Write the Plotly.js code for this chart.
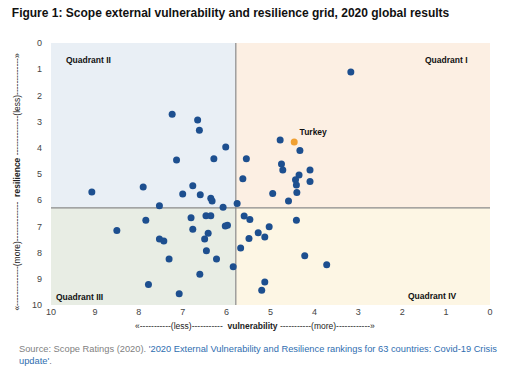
<!DOCTYPE html>
<html><head><meta charset="utf-8">
<script src="https://cdn.plot.ly/plotly-3.0.1.min.js"></script>
<style>html,body{margin:0;padding:0;background:#fff}#c{width:513px;height:377px}</style>
</head><body><div id="c"></div>
<script>
const vulnerability = [3.17,4.78,4.33,5.55,4.75,4.72,4.10,4.35,5.63,4.43,4.10,4.41,4.95,4.40,4.59,5.76,5.60,5.47,4.41,5.03,5.28,5.49,5.13,5.68,4.22,3.72,5.85,5.13,5.20,7.24,6.66,6.62,6.02,7.14,6.29,9.07,7.90,6.77,7.00,6.60,6.36,6.33,7.53,6.08,7.84,6.81,6.47,6.36,6.77,6.03,5.98,8.50,6.42,7.53,7.43,6.50,6.46,7.31,6.23,6.61,7.78,7.08];
const resilience = [1.11,3.70,4.10,4.42,4.62,4.85,4.85,5.04,5.18,5.22,5.29,5.42,5.74,5.71,6.03,6.13,6.60,6.74,6.77,7.01,7.24,7.46,7.40,7.82,8.12,8.46,8.54,9.12,9.44,2.72,2.94,3.33,3.97,4.47,4.42,5.69,5.50,5.45,5.76,5.79,5.93,6.03,6.21,6.27,6.77,6.67,6.59,6.59,7.11,6.98,6.96,7.16,7.26,7.48,7.56,7.48,7.93,8.24,8.24,8.83,9.22,9.57];
const highlightName = ["Turkey"];
const highlightX = [4.46];
const highlightY = [3.78];
const xTicks = [10,9,8,7,6,5,4,3,2,1,0];
const yTicks = [0,1,2,3,4,5,6,7,8,9,10];
const splitX = 5.79, splitY = 6.29;

const traces = [
  {x: vulnerability, y: resilience, type:'scatter', mode:'markers',
   marker:{color:'#1d4f8f', size:7}, hoverinfo:'x+y', showlegend:false},
  {x: highlightX, y: highlightY, type:'scatter', mode:'markers+text', text: highlightName.map(s => '<b>' + s + '</b>'),
   textposition:'top right', textfont:{family:'Arial, Liberation Sans', size:8.5, color:'#111'},
   marker:{color:'#f0a033', size:7}, showlegend:false}
];
const tickFont = {family:'Arial, Liberation Sans', size:9, color:'#444'};
const layout = {
  width:513, height:377,
  margin:{l:51, r:23, t:43, b:72},
  paper_bgcolor:'#fff', plot_bgcolor:'#fff',
  showlegend:false,
  title:{text:'<b>Figure 1: Scope external vulnerability and resilience grid, 2020 global results</b>',
    x:0.023, xanchor:'left', y:0.965, yanchor:'middle',
    font:{family:'Arial, Liberation Sans', size:12, color:'#111'}},
  xaxis:{range:[10,0], tickvals:xTicks, ticktext:xTicks.map(String), showgrid:false, zeroline:false,
    showline:false, ticks:'', tickfont:tickFont, ticklen:0},
  yaxis:{range:[10,0], tickvals:yTicks, ticktext:yTicks.map(String), showgrid:false, zeroline:false,
    showline:false, ticks:'', tickfont:tickFont, ticklabelstandoff:8},
  shapes:[
    {type:'rect', xref:'x', yref:'y', x0:10, x1:splitX, y0:0, y1:splitY, fillcolor:'#e9eff5', line:{width:0}, layer:'below'},
    {type:'rect', xref:'x', yref:'y', x0:splitX, x1:0, y0:0, y1:splitY, fillcolor:'#fcefe3', line:{width:0}, layer:'below'},
    {type:'rect', xref:'x', yref:'y', x0:10, x1:splitX, y0:splitY, y1:10, fillcolor:'#e8ede4', line:{width:0}, layer:'below'},
    {type:'rect', xref:'x', yref:'y', x0:splitX, x1:0, y0:splitY, y1:10, fillcolor:'#fdf6e4', line:{width:0}, layer:'below'},
    {type:'line', xref:'x', yref:'y', x0:splitX, x1:splitX, y0:0, y1:10, line:{color:'#8a8a8a', width:1.2}, layer:'below'},
    {type:'line', xref:'x', yref:'y', x0:10, x1:0, y0:splitY, y1:splitY, line:{color:'#8a8a8a', width:1.2}, layer:'below'}
  ],
  annotations:[
    {text:'<b>Quadrant II</b>', xref:'paper', yref:'paper', x:0.03, y:0.935, xanchor:'left', yanchor:'middle', showarrow:false, font:{family:'Arial, Liberation Sans', size:8.5, color:'#111'}},
    {text:'<b>Quadrant I</b>', xref:'paper', yref:'paper', x:0.955, y:0.935, xanchor:'right', yanchor:'middle', showarrow:false, font:{family:'Arial, Liberation Sans', size:8.5, color:'#111'}},
    {text:'<b>Quadrant III</b>', xref:'paper', yref:'paper', x:0.007, y:0.03, xanchor:'left', yanchor:'middle', showarrow:false, font:{family:'Arial, Liberation Sans', size:8.5, color:'#111'}},
    {text:'<b>Quadrant IV</b>', xref:'paper', yref:'paper', x:0.93, y:0.035, xanchor:'right', yanchor:'middle', showarrow:false, font:{family:'Arial, Liberation Sans', size:8.5, color:'#111'}},
    {text:'«-----------(less)-----------  <b>vulnerability</b> -----------(more)------------»', xref:'paper', yref:'paper', x:0.465, y:-0.082, xanchor:'center', yanchor:'middle', showarrow:false, font:{family:'Arial, Liberation Sans', size:8.5, color:'#222'}},
    {text:'«--------------(more)--------------  <b>resilience</b> --------------(less)-------------»', xref:'paper', yref:'paper', x:-0.078, y:0.47, xanchor:'center', yanchor:'middle', textangle:-90, showarrow:false, font:{family:'Arial, Liberation Sans', size:8.5, color:'#222'}},
    {text:'<span style="color:#7f7f7f">Source: Scope Ratings (2020). </span><span style="color:#2f6eb0">\'2020 External Vulnerability and Resilience rankings for 63 countries: Covid-19 Crisis</span><br><span style="color:#2f6eb0">update\'</span><span style="color:#7f7f7f">.</span>',
     xref:'paper', yref:'paper', x:-0.077, y:-0.14, xanchor:'left', yanchor:'top', align:'left', showarrow:false, font:{family:'Arial, Liberation Sans', size:9.3, color:'#7f7f7f'}}
  ]
};
Plotly.newPlot('c', traces, layout, {displayModeBar:false, staticPlot:true});
</script></body></html>
